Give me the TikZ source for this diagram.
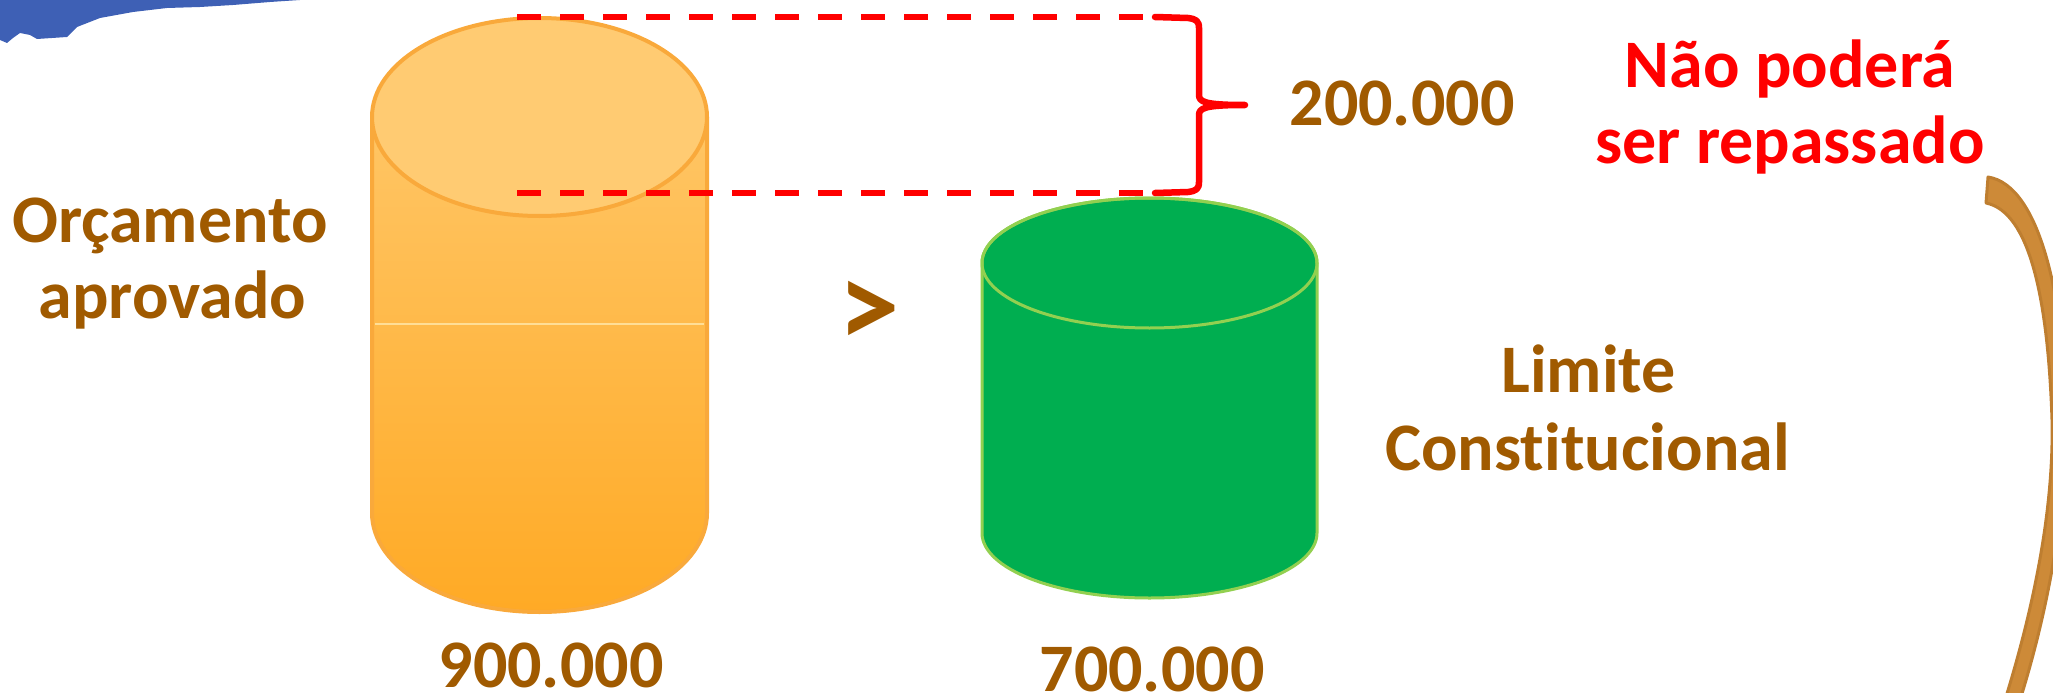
\documentclass[tikz,border=0pt]{standalone}
\usepackage{fontspec}
\setmainfont[Ligatures=NoCommon]{Carlito}
\definecolor{txtbrown}{RGB}{160,90,0}
\definecolor{brushblue}{RGB}{62,96,181}
\definecolor{orTop}{RGB}{255,203,114}
\definecolor{orBot}{RGB}{255,170,37}
\definecolor{orStroke}{RGB}{249,169,59}
\definecolor{orSeam}{RGB}{255,222,150}
\definecolor{grFill}{RGB}{0,174,80}
\definecolor{grStroke}{RGB}{146,208,80}
\definecolor{arrFill}{RGB}{205,138,56}
\definecolor{arrStroke}{RGB}{190,126,48}
\begin{document}
\begin{tikzpicture}[x=1pt,y=-1pt,
  lbl/.style={font=\bfseries\fontsize{68}{76}\selectfont, text=txtbrown, inner sep=0pt, anchor=base},
  redlbl/.style={lbl, text=red},
  reddash/.style={draw=red, line width=6.5pt, dash pattern=on 24pt off 19pt},
  bracestyle/.style={draw=red, line width=6.5pt, line join=round, line cap=round},
  cylor/.style={draw=orStroke, line width=4pt},
  cylgr/.style={draw=grStroke, line width=3pt}]
\useasboundingbox (0,0) rectangle (2053,693);
\clip (0,0) rectangle (2053,693);

% blue brush stroke (top left)
\fill[brushblue] (0,0) -- (300,0) -- (270,2) -- (233,5) -- (200,7) -- (167,8) -- (133,12)
  -- (100,18) -- (77,27) -- (67,37) -- (37,39) -- (30,35) -- (20,33) -- (13,38) -- (7,43) -- (0,40) -- cycle;

% orange cylinder
\coordinate (otop) at (539.5,117);
\coordinate (obot) at (539.5,513);
\shade[top color=orTop, bottom color=orBot]
  (372,117) -- (372,513) arc[start angle=180,end angle=360,x radius=167.5pt,y radius=99pt]
  -- (707,117) arc[start angle=0,end angle=180,x radius=167.5pt,y radius=99pt] -- cycle;
\draw[orSeam, line width=1.5pt] (375,324) -- (704,324);
\draw[cylor] (372,117) -- (372,513) arc[start angle=180,end angle=360,x radius=167.5pt,y radius=99pt] -- (707,117);
\draw[cylor, fill=orTop] (otop) ellipse[x radius=167.5pt, y radius=99pt];

% green cylinder
\coordinate (gtop) at (1149.5,263);
\coordinate (gbot) at (1149.5,533);
\draw[cylgr, fill=grFill]
  (982,263) -- (982,533) arc[start angle=180,end angle=360,x radius=167.5pt,y radius=65pt]
  -- (1317,263) arc[start angle=0,end angle=180,x radius=167.5pt,y radius=65pt] -- cycle;
\draw[cylgr] (gtop) ellipse[x radius=167.5pt, y radius=65pt];

% dashed red lines and brace
\coordinate (d1a) at (517,17);
\coordinate (d1b) at (1150,17);
\coordinate (d2a) at (517,193);
\coordinate (d2b) at (1150,193);
\draw[reddash] (d1a) -- (d1b);
\draw[reddash] (d2a) -- (d2b);
\coordinate (btip) at (1245,105);
\draw[bracestyle] (1155,17) -- (1188,18) .. controls (1196,19) and (1199,21) .. (1199,28)
  -- (1199,95) .. controls (1199,102) and (1205,105) .. (btip)
  .. controls (1205,105) and (1199,108) .. (1199,115)
  -- (1199,182) .. controls (1199,189) and (1196,191) .. (1188,192) -- (1155,193);

% curved arrow on the right
\filldraw[fill=arrFill, draw=arrStroke, line width=3pt, line join=round]
  (1988,177) .. controls (2040,185) and (2065,300) .. (2066,420)
  .. controls (2066,520) and (2045,620) .. (2020,700)
  -- (2005,700) .. controls (2033,610) and (2054,510) .. (2052,420)
  .. controls (2048,300) and (2030,212) .. (1986,203) -- cycle;

% texts
\node[lbl] (orc1) at (170,242) {Orçamento};
\node[lbl] (orc2) at (172.5,318) {aprovado};
\node[lbl] (v900) at (551,687) {900.000};
\node[lbl] (v700) at (1152,691) {700.000};
\node[lbl] (v200) at (1402,125) {200.000};
\node[lbl] (lim1) at (1588.5,392) {Limite};
\node[lbl] (lim2) at (1587.5,470) {Constitucional};
\node[redlbl] (nao1) at (1790,87) {Não poderá};
\node[redlbl] (nao2) at (1790,163) {ser repassado};
\node[lbl, font=\bfseries\fontsize{123}{123}\selectfont, anchor=center] (gt) at (869,314) {>};
\end{tikzpicture}
\end{document}
